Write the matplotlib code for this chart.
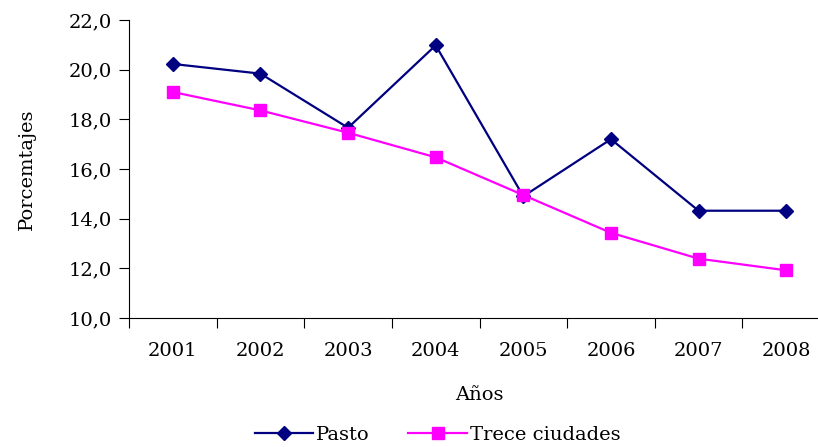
import numpy as np
import matplotlib.pyplot as plt
from matplotlib.ticker import FuncFormatter

years = ['2001', '2002', '2003', '2004', '2005', '2006', '2007', '2008']
pasto = [20.23, 19.84, 17.66, 20.98, 14.90, 17.20, 14.32, 14.32]
trece = [19.10, 18.36, 17.46, 16.47, 14.95, 13.43, 12.39, 11.92]

plt.rcParams['font.family'] = 'DejaVu Serif'

fig = plt.figure(figsize=(8.18, 4.47), dpi=100)
ax = fig.add_axes([129/818, 1 - 318/447, 701/818, 298/447])

x = np.arange(1, len(years) + 1)
ax.plot(x, pasto, color='#000080', marker='D', markersize=7, lw=1.6, label='Pasto')
ax.plot(x, trece, color='#FF00FF', marker='s', markersize=8, lw=1.6, label='Trece ciudades')

ax.set_xlim(0.5, 8.5)
ax.set_ylim(10, 22)
ax.set_yticks(np.arange(10, 23, 2))
ax.yaxis.set_major_formatter(FuncFormatter(lambda v, p: f'{v:.1f}'.replace('.', ',')))
ax.set_xticks(np.arange(0.5, 8.5, 1))
ax.set_xticklabels([])
ax.set_xticks(x, minor=True)
ax.set_xticklabels(years, minor=True, fontsize=14)
ax.tick_params(axis='x', which='minor', length=0, pad=17)
ax.tick_params(axis='x', which='major', length=7, direction='out')
ax.tick_params(axis='y', length=7, labelsize=14, pad=5)

ax.spines['top'].set_visible(False)
ax.spines['right'].set_visible(False)
ax.set_ylabel('Porcemtajes', fontsize=14, labelpad=24)
ax.set_xlabel('Años', fontsize=14, labelpad=19)

ax.legend(loc='center', bbox_to_anchor=(0.44, -0.393), ncol=2, frameon=False,
          fontsize=14, handlelength=3.0, handletextpad=0.15, columnspacing=2.0)

fig.savefig('out.png', dpi=100)
